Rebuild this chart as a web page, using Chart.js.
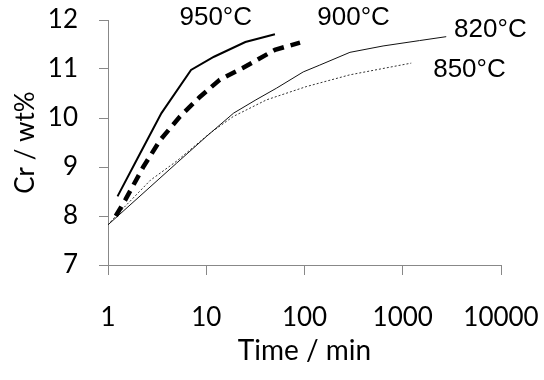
<!DOCTYPE html>
<html>
<head>
<meta charset="utf-8">
<script src="https://cdn.jsdelivr.net/npm/chart.js@4/dist/chart.umd.min.js"></script>
<style>
  html, body { margin: 0; padding: 0; background: #fff; }
  #wrap { width: 544px; height: 380px; position: relative; }
</style>
</head>
<body>
<div id="wrap"><canvas id="c" width="544" height="380"></canvas></div>
<script>
// ---- data ----
const xTickValues = [1, 10, 100, 1000, 10000];
const yTickValues = [7, 8, 9, 10, 11, 12];

const t950 = [1.25, 2, 3.5, 7, 12, 25, 50];
const cr950 = [8.40, 9.18, 10.10, 10.98, 11.25, 11.55, 11.71];

const t900 = [1.2, 1.5, 2.3, 3.4, 5.4, 8.6, 13.7, 23.5, 50, 90];
const cr900 = [8.00, 8.33, 9.01, 9.55, 10.03, 10.43, 10.78, 11.02, 11.39, 11.54];

const t820 = [1, 5, 10, 19, 32, 52, 97, 143, 290, 630, 1480, 2770];
const cr820 = [7.82, 9.08, 9.62, 10.10, 10.37, 10.61, 10.94, 11.08, 11.34, 11.47, 11.58, 11.66];

const t850 = [1, 1.2, 2.7, 5, 10.9, 18.8, 41, 104, 288, 628, 1220];
const cr850 = [7.82, 8.00, 8.73, 9.12, 9.69, 10.03, 10.37, 10.64, 10.88, 11.01, 11.12];

const labelTexts = ['950°C', '900°C', '820°C', '850°C'];
const labelX = [12.5, 316, 7800, 4775];
const labelY = [12.04, 12.04, 11.80, 10.98];

// ---- build ----
const pts = (xs, ys) => xs.map((x, i) => ({ x: x, y: ys[i] }));

const annotate = {
  id: 'annotate',
  afterDatasetsDraw(chart) {
    const { ctx, scales } = chart;
    ctx.save();
    ctx.font = '26px "Liberation Sans", Arial, sans-serif';
    ctx.fillStyle = '#000';
    ctx.textAlign = 'center';
    ctx.textBaseline = 'middle';
    labelTexts.forEach((txt, i) => {
      ctx.fillText(txt, scales.x.getPixelForValue(labelX[i]), scales.y.getPixelForValue(labelY[i]));
    });
    ctx.restore();
  }
};

const zeroPad = (s) => { s.paddingTop = 0; s.paddingBottom = 0; s.paddingLeft = 0; s.paddingRight = 0; };

const axisFont = { family: 'Lato, "Open Sans", sans-serif', size: 26 };
const titleFont = { family: 'Lato, "Open Sans", sans-serif', size: 28 };

new Chart(document.getElementById('c'), {
  type: 'scatter',
  data: {
    datasets: [
      { label: '950°C', data: pts(t950, cr950), showLine: true, borderColor: '#000', borderWidth: 2, pointRadius: 0 },
      { label: '900°C', data: pts(t900, cr900), showLine: true, borderColor: '#000', borderWidth: 4.5, borderDash: [11, 7], pointRadius: 0 },
      { label: '820°C', data: pts(t820, cr820), showLine: true, borderColor: '#111', borderWidth: 1, pointRadius: 0 },
      { label: '850°C', data: pts(t850, cr850), showLine: true, borderColor: '#333', borderWidth: 1, borderDash: [2, 2], pointRadius: 0 }
    ]
  },
  options: {
    responsive: false,
    animation: false,
    devicePixelRatio: 1,
    layout: { padding: { left: 0, right: 43, top: 20, bottom: 0 } },
    plugins: { legend: { display: false }, tooltip: { enabled: false } },
    scales: {
      x: {
        type: 'logarithmic',
        min: 1, max: 10000,
        afterBuildTicks: (s) => { s.ticks = xTickValues.map(v => ({ value: v })); },
        afterFit: (s) => { s.height = 115; zeroPad(s); },
        grid: { drawOnChartArea: false, drawTicks: true, tickLength: 10, tickColor: '#888' },
        border: { display: true, color: '#888', width: 1 },
        ticks: { autoSkip: false, maxRotation: 0, color: '#000', font: axisFont, padding: 27,
                 callback: (v) => String(v) },
        title: { display: true, text: 'Time / min', color: '#000', font: titleFont, padding: { top: 0, bottom: 12 } }
      },
      y: {
        type: 'linear',
        min: 7, max: 12,
        afterBuildTicks: (s) => { s.ticks = yTickValues.map(v => ({ value: v })); },
        afterFit: (s) => { s.width = 108; zeroPad(s); },
        grid: { drawOnChartArea: false, drawTicks: true, tickLength: 9, tickColor: '#888' },
        border: { display: true, color: '#888', width: 1 },
        ticks: { color: '#000', font: axisFont, padding: 21, callback: (v) => String(v) },
        title: { display: true, text: 'Cr / wt%', color: '#000', font: axisFont, padding: { top: 10, bottom: 0 } }
      }
    }
  },
  plugins: [annotate]
});
</script>
</body>
</html>
